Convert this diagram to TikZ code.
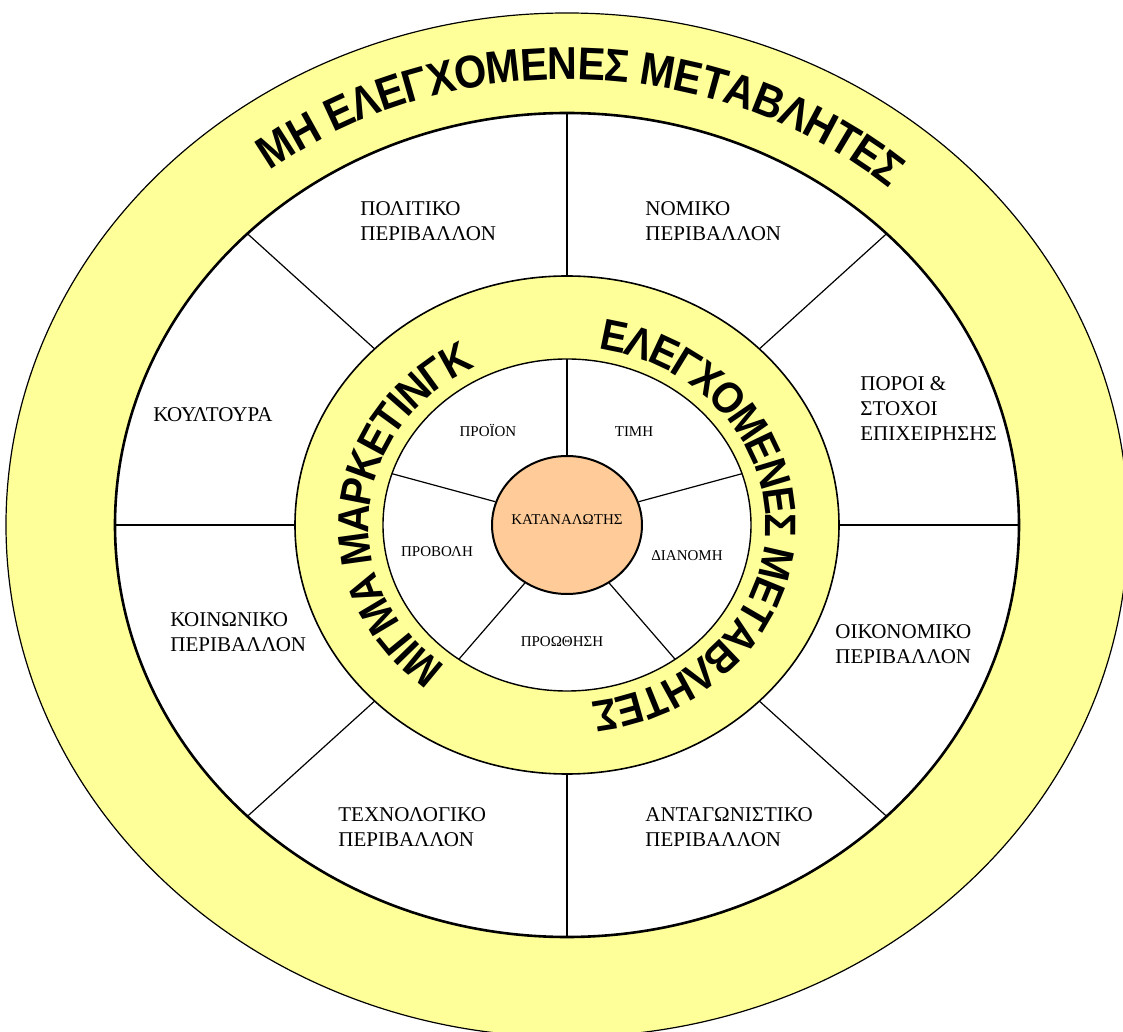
\documentclass[tikz,border=0pt]{standalone}
\usepackage{fontspec}
\setmainfont{Liberation Serif}
\newfontfamily\ringfont[FakeStretch=0.9]{Liberation Sans}
\usetikzlibrary{decorations.text,shapes.geometric}
\definecolor{ringyellow}{HTML}{FFFF99}
\definecolor{corepeach}{HTML}{FFCC99}

\begin{document}
\begin{tikzpicture}[x=0.5pt, y=0.5pt,
  sector/.style={align=left, anchor=west, inner sep=0pt, font=\fontsize{10.5}{12.5}\selectfont},
  mixlabel/.style={inner sep=0pt, font=\fontsize{7.5}{9}\selectfont},
  spoke/.style={draw=black, line width=0.6pt},
  ringtext/.style={decorate, decoration={text along path, text align=center, raise=#1}}
]
  \useasboundingbox (-567,-507) rectangle (556,525);
  \clip (-567,-507) rectangle (556,525);

  % uncontrollable variables ring
  \filldraw[fill=ringyellow, line width=0.6pt] (0,0) ellipse [x radius=561, y radius=512];
  \filldraw[fill=white, line width=1.3pt] (0,0) ellipse [x radius=452, y radius=412];
  \foreach \a in {0,45,...,315}
    \draw[spoke] (\a:272 and 249) -- (\a:452 and 412);

  % marketing mix ring
  \filldraw[fill=ringyellow, line width=0.8pt] (0,0) ellipse [x radius=272, y radius=249];
  \filldraw[fill=white, line width=0.7pt] (0,0) ellipse [x radius=184, y radius=166];

  \node[ellipse, draw, line width=1pt, fill=corepeach, minimum width=75pt, minimum height=69pt, inner sep=0pt] (consumer) at (0,0) {};
  \foreach \a in {90,18,162,234,306}
    \draw[spoke] (consumer.\a) -- (\a:184 and 166);
  \node[mixlabel] (katanalotis) at (0,5) {ΚΑΤΑΝΑΛΩΤΗΣ};

  % ring titles
  \path[ringtext=-8.2pt, decoration={text={|\ringfont\bfseries\fontsize{23}{23}\selectfont|ΜΗ ΕΛΕΓΧΟΜΕΝΕΣ ΜΕΤΑΒΛΗΤΕΣ}}]
    (176:507 and 462) arc[start angle=176, end angle=0, x radius=507, y radius=462];
  \path[ringtext=-7.8pt, decoration={text={|\ringfont\bfseries\fontsize{22}{22}\selectfont|ΕΛΕΓΧΟΜΕΝΕΣ ΜΕΤΑΒΛΗΤΕΣ}}]
    (89:214 and 194) arc[start angle=89, end angle=-91, x radius=214, y radius=194];
  \path[ringtext=-7.8pt, decoration={text={|\ringfont\bfseries\fontsize{22}{22}\selectfont|ΜΙΓΜΑ ΜΑΡΚΕΤΙΝΓΚ}}]
    (265:214 and 194) arc[start angle=265, end angle=85, x radius=214, y radius=194];

  % environment sectors
  \node[sector] (politiko) at (-207,304) {ΠΟΛΙΤΙΚΟ\\ΠΕΡΙΒΑΛΛΟΝ};
  \node[sector] (nomiko) at (78,304) {ΝΟΜΙΚΟ\\ΠΕΡΙΒΑΛΛΟΝ};
  \node[sector] (koultoura) at (-414,110) {ΚΟΥΛΤΟΥΡΑ};
  \node[sector] (poroi) at (293,116) {ΠΟΡΟΙ \&\\ΣΤΟΧΟΙ\\ΕΠΙΧΕΙΡΗΣΗΣ};
  \node[sector] (koinoniko) at (-397,-107) {ΚΟΙΝΩΝΙΚΟ\\ΠΕΡΙΒΑΛΛΟΝ};
  \node[sector] (oikonomiko) at (268,-119) {ΟΙΚΟΝΟΜΙΚΟ\\ΠΕΡΙΒΑΛΛΟΝ};
  \node[sector] (texnologiko) at (-229,-302) {ΤΕΧΝΟΛΟΓΙΚΟ\\ΠΕΡΙΒΑΛΛΟΝ};
  \node[sector] (antagonistiko) at (78,-302) {ΑΝΤΑΓΩΝΙΣΤΙΚΟ\\ΠΕΡΙΒΑΛΛΟΝ};

  % marketing mix elements
  \node[mixlabel] (proion) at (-79,94) {ΠΡΟΪΟΝ};
  \node[mixlabel] (timi) at (67,93) {ΤΙΜΗ};
  \node[mixlabel] (dianomi) at (120,-31) {ΔΙΑΝΟΜΗ};
  \node[mixlabel] (proothisi) at (-5,-117) {ΠΡΟΩΘΗΣΗ};
  \node[mixlabel] (provoli) at (-130,-27) {ΠΡΟΒΟΛΗ};
\end{tikzpicture}
\end{document}
